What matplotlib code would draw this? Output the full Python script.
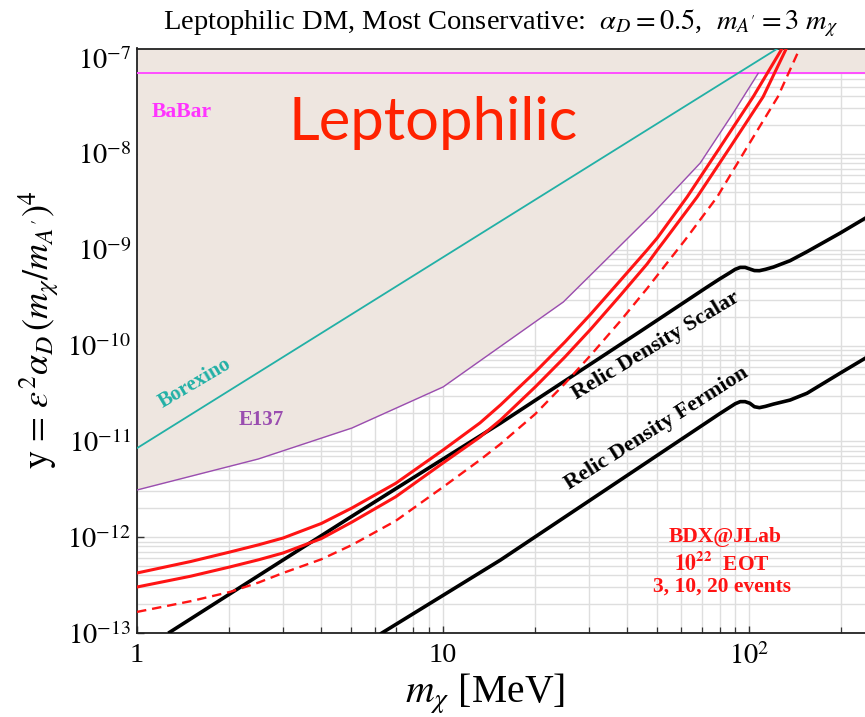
import numpy as np
import matplotlib
matplotlib.use("Agg")
import matplotlib.pyplot as plt
from matplotlib.ticker import (LogLocator, FixedLocator, FixedFormatter,
                               NullFormatter)

plt.rcParams['font.family'] = ['Liberation Serif', 'DejaVu Serif']
plt.rcParams['mathtext.fontset'] = 'stix'

# ---------------- data (m_chi in MeV, y dimensionless) ----------------
x_range = [1, 239]
y_range = [1e-13, 10 ** -6.899]

babar_y = 6.95e-8

borexino_m = [1, 130]
borexino_y = [8.5e-12, 1.39e-7]

e137_m = [1, 2.49, 5.04, 10, 24.7, 48.6, 69.2, 88.7, 107]
e137_y = [3.11e-12, 6.55e-12, 1.38e-11, 3.70e-11, 2.85e-10, 2.42e-9,
          8.05e-9, 2.68e-8, 6.95e-8]

# BDX@JLab reach curves (20, 10, 3 events)
bdx20_m = [1, 1.5, 2.01, 2.5, 3.0, 4.0, 5.04, 7.0, 10, 13.2, 15.4, 20, 25,
           30.4, 37.8, 46.4, 50.1, 62.7, 80.4, 103, 129]
bdx20_y = [4.23e-13, 5.58e-13, 7.0e-13, 8.34e-13, 9.8e-13, 1.39e-12, 2.02e-12,
           3.65e-12, 8.13e-12, 1.56e-11, 2.4e-11, 5.30e-11, 1.09e-10,
           2.14e-10, 4.72e-10, 9.95e-10, 1.33e-9, 3.56e-9, 1.18e-8, 3.94e-8,
           1.31e-7]

bdx10_m = [1, 1.5, 2.01, 2.5, 3.0, 4.0, 5.04, 7.0, 10, 13.2, 15.4, 20, 25,
           30.4, 37.8, 46.4, 50.1, 53.1, 67.6, 86.7, 111, 133]
bdx10_y = [3.02e-13, 3.92e-13, 4.89e-13, 5.82e-13, 6.84e-13, 9.66e-13,
           1.44e-12, 2.64e-12, 5.96e-12, 1.11e-11, 1.67e-11, 3.70e-11, 7.6e-11,
           1.49e-10, 3.30e-10, 7.11e-10, 9.95e-10, 1.27e-9, 3.56e-9, 1.18e-8,
           3.94e-8, 1.31e-7]

bdx3_m = [1, 1.5, 2.01, 2.5, 3.0, 4.0, 5.04, 7.0, 10, 13.2, 15.4, 20, 25,
          30.4, 37.8, 46.4, 58.2, 61.8, 78.6, 98.5, 124, 147]
bdx3_y = [1.66e-13, 2.15e-13, 2.68e-13, 3.37e-13, 4.23e-13, 5.88e-13, 8.3e-13,
          1.48e-12, 3.34e-12, 6.4e-12, 9.4e-12, 1.93e-11, 4.02e-11, 7.98e-11,
          1.78e-10, 3.95e-10, 9.95e-10, 1.27e-9, 3.56e-9, 1.18e-8, 3.94e-8,
          1.31e-7]

# relic density targets
scalar_m = [1.28, 3.0, 5.0, 10, 15.4, 44.0, 72.7, 80, 86, 90, 93.5, 97,
            100.5, 104, 108, 113, 120, 136, 154.5, 198, 239]
scalar_y = [1.02e-13, 5.78e-13, 1.63e-12, 6.55e-12, 1.55e-11, 1.40e-10,
            4.06e-10, 4.95e-10, 5.70e-10, 6.25e-10, 6.55e-10, 6.55e-10,
            6.30e-10, 6.07e-10, 6.05e-10, 6.25e-10, 6.60e-10, 7.69e-10,
            9.55e-10, 1.49e-9, 2.13e-9]

fermion_m = [6.31, 15.4, 80, 86, 90, 93.5, 97, 100.5, 104, 108, 113, 120,
             136, 154.5, 198, 239]
fermion_y = [1.0e-13, 5.78e-13, 1.94e-11, 2.25e-11, 2.47e-11, 2.60e-11,
             2.60e-11, 2.50e-11, 2.30e-11, 2.25e-11, 2.32e-11, 2.45e-11,
             2.70e-11, 3.18e-11, 5.14e-11, 7.36e-11]

x_tick_vals = [1, 10, 100]
x_tick_labels = ['1', '10', r'$10^2$']
y_tick_vals = [1e-13, 1e-12, 1e-11, 1e-10, 1e-9, 1e-8, 1e-7]
y_tick_labels = [r'$10^{-13}$', r'$10^{-12}$', r'$10^{-11}$', r'$10^{-10}$',
                 r'$10^{-9}$', r'$10^{-8}$', r'$10^{-7}$']

# ---------------- colours ----------------
beige = '#EEE6E0'
teal = '#22B0A6'
purple = '#9A4DB0'
magenta = '#FF4DFF'
red = '#FF1414'

W, H = 865, 717


def fpos(px, py):
    return px / W, 1 - py / H


fig = plt.figure(figsize=(W / 100, H / 100), dpi=100)
ax = fig.add_axes([137 / W, 1 - 633 / H, 728 / W, 584.5 / H])
ax.set_xscale('log')
ax.set_yscale('log')
ax.set_xlim(*x_range)
ax.set_ylim(*y_range)

# excluded region (above E137 / BaBar)
fill_m = e137_m + [x_range[1]]
fill_lo = e137_y + [babar_y]
ax.fill_between(fill_m, fill_lo, y_range[1], color=beige, lw=0, zorder=1)

ax.axhline(babar_y, color=magenta, lw=1.4, zorder=3)
ax.plot(borexino_m, borexino_y, color=teal, lw=1.3, zorder=3)
ax.plot(e137_m, e137_y, color=purple, lw=1.0, zorder=3)

ax.plot(bdx20_m, bdx20_y, color=red, lw=2.2, zorder=5)
ax.plot(bdx10_m, bdx10_y, color=red, lw=2.2, zorder=5)
ax.plot(bdx3_m, bdx3_y, color=red, lw=1.7, ls=(0, (4, 2.5)), zorder=5)

ax.plot(scalar_m, scalar_y, color='black', lw=2.6, zorder=4,
        solid_joinstyle='round')
ax.plot(fermion_m, fermion_y, color='black', lw=2.6, zorder=4,
        solid_joinstyle='round')

# ---------------- axes styling ----------------
ax.set_axisbelow(True)
ax.grid(True, which='both', color='#DEDEDE', lw=1.0)

ax.xaxis.set_major_locator(FixedLocator(x_tick_vals))
ax.xaxis.set_major_formatter(FixedFormatter(x_tick_labels))
ax.xaxis.set_minor_locator(LogLocator(base=10, subs=np.arange(2, 10), numticks=20))
ax.xaxis.set_minor_formatter(NullFormatter())
ax.yaxis.set_major_locator(FixedLocator(y_tick_vals))
ax.yaxis.set_major_formatter(FixedFormatter(y_tick_labels))
ax.yaxis.set_minor_locator(LogLocator(base=10, subs=np.arange(2, 10), numticks=20))
ax.yaxis.set_minor_formatter(NullFormatter())

ax.tick_params(which='both', direction='in', top=False, right=False,
               color='#333333')
ax.tick_params(which='major', length=5, width=1.0, labelsize=20.5)
ax.tick_params(axis='x', which='minor', length=4.5, width=0.9,
               labelbottom=False)
ax.tick_params(axis='y', which='minor', length=0, labelleft=False)
ax.tick_params(axis='x', pad=7)
ax.tick_params(axis='y', pad=4)

for side in ('left', 'top', 'bottom'):
    ax.spines[side].set_linewidth(1.3)
    ax.spines[side].set_color('#222222')
ax.spines['right'].set_visible(False)

# axis labels
fig.text(*fpos(485, 703), r'$m_\chi$ [MeV]', fontsize=28.5,
         ha='center', va='baseline')
ax.set_ylabel(r'$\mathrm{y}\,=\,\epsilon^2\alpha_D\,(m_\chi/m_{A^\prime})^4$',
              fontsize=26)
ax.yaxis.set_label_coords(-(137 - 62) / 728, 0.518)

# ---------------- text ----------------
fig.text(*fpos(501, 29),
         r'Leptophilic DM, Most Conservative:  $\alpha_D = 0.5$,  $m_{A^\prime} = 3\ m_\chi$',
         ha='center', va='baseline', fontsize=20.5)

fig.text(*fpos(433, 140), 'Leptophilic', family=['Lato', 'DejaVu Sans'],
         fontsize=43, color='#FF2200', ha='center', va='baseline', zorder=6)

bold = dict(fontweight='bold', ha='center', va='center', zorder=6,
            rotation_mode='anchor')
fig.text(*fpos(182, 112), 'BaBar', color='#FF33FF', fontsize=15.5, **bold)
fig.text(*fpos(195, 383), 'Borexino', color=teal, fontsize=15, rotation=30.6, **bold)
fig.text(*fpos(261, 420), 'E137', color=purple, fontsize=15, **bold)
fig.text(*fpos(656, 346), 'Relic Density Scalar', color='black', fontsize=16,
         rotation=31.2, **bold)
fig.text(*fpos(657, 428), 'Relic Density Fermion', color='black', fontsize=16,
         rotation=32.4, **bold)

fig.text(*fpos(725, 537), 'BDX@JLab', color=red, fontsize=15.5, **bold)
fig.text(*fpos(722, 563), r'$\mathbf{10^{22}}$  EOT', color=red, fontsize=15.5, **bold)
fig.text(*fpos(722, 587), '3, 10, 20 events', color=red, fontsize=15.5, **bold)

fig.savefig('out.png', dpi=100)
